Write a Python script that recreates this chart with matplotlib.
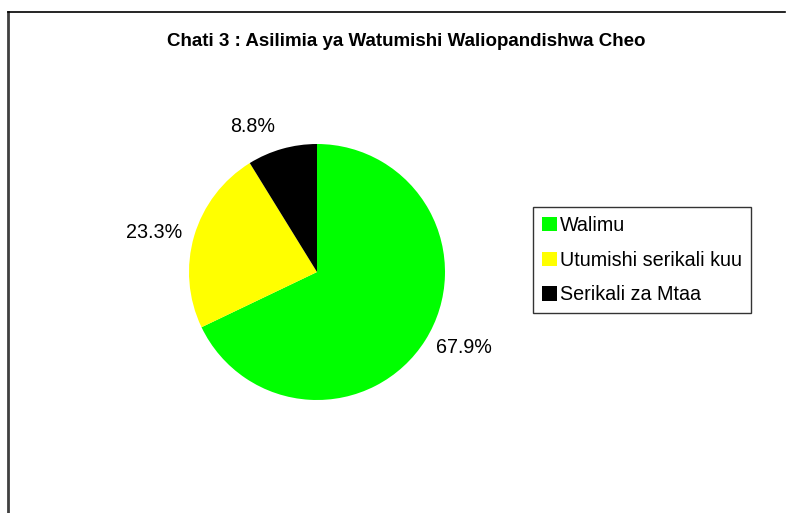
import matplotlib
matplotlib.use("Agg")
import matplotlib.pyplot as plt
from matplotlib.lines import Line2D

categories = ["Walimu", "Utumishi serikali kuu", "Serikali za Mtaa"]
percentages = [67.9, 23.3, 8.8]
colors = ["#00ff00", "#ffff00", "#000000"]
title = "Chati 3 : Asilimia ya Watumishi Waliopandishwa Cheo"

plt.rcParams["font.family"] = ["Liberation Sans", "DejaVu Sans"]

W, H = 790, 513
fig = plt.figure(figsize=(W / 100, H / 100), dpi=100)


def px(x, y):
    # pixel coords (top-left origin) -> figure fraction
    return x / W, 1 - y / H


# chart frame (only left and top edges are inside the picture)
x0, y0 = px(8, 12)
x1, _ = px(785, 12)
_, yb = px(8, 513)
fig.add_artist(Line2D([x0, x0], [yb, y0], color="#404040", lw=2, transform=fig.transFigure))
fig.add_artist(Line2D([x0, x1], [y0, y0], color="black", lw=1.2, transform=fig.transFigure))

# pie axes: centre (317, 272), radius 128 px -> axes 320 px wide (limits +-1.25)
side = 320
ax = fig.add_axes([(317 - side / 2) / W, (H - 272 - side / 2) / H, side / W, side / H])
labels = [f"{p:.1f}%" for p in percentages]
wedges, texts = ax.pie(percentages, colors=colors, labels=labels, startangle=90,
                       counterclock=False, labeldistance=1.1,
                       textprops={"fontsize": 14.2, "color": "black"})
ax.set_aspect("equal")
# Excel puts the small slice label a bit higher / further left
texts[2].set_position((texts[2].get_position()[0] - 0.03, texts[2].get_position()[1] + 0.08))

tx, ty = px(406, 41)
fig.text(tx, ty, title, ha="center", va="center", fontsize=13.5, fontweight="bold")

lx, ly = px(533, 207)
leg = fig.legend(wedges, categories, loc="upper left", bbox_to_anchor=(lx, ly),
                 bbox_transform=fig.transFigure, fontsize=14.2, frameon=True,
                 fancybox=False, edgecolor="#333333", framealpha=1,
                 handlelength=0.75, handleheight=0.75, handletextpad=0.15,
                 labelspacing=0.8, borderpad=0.45, borderaxespad=0)
leg.get_frame().set_linewidth(1)

fig.savefig("out.png", dpi=100)
